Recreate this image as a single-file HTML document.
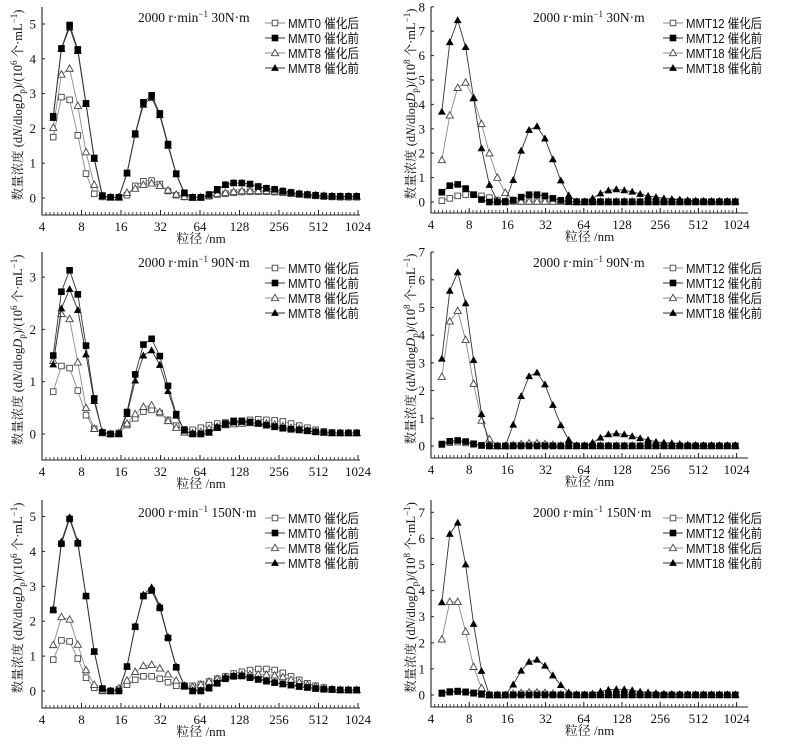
<!DOCTYPE html>
<html><head><meta charset="utf-8"><style>
html,body{margin:0;padding:0;background:#fff}
svg{display:block}
text{font-family:"Liberation Serif","Noto Serif CJK SC","Noto Sans CJK SC",serif;fill:#111}
</style></head><body>
<svg id="fig" width="786" height="745" viewBox="0 0 786 745" xmlns="http://www.w3.org/2000/svg"></svg>
<script>
// bin index k -> diameter 10^(k/16), k = 11..48
const binK = [11,12,13,14,15,16,17,18,19,20,21,22,23,24,25,26,27,28,29,30,31,32,33,34,35,36,37,38,39,40,41,42,43,44,45,46,47,48];
const xTickLabels = [4,8,16,32,64,128,256,512,1024];
const titles = ["2000 r·min⁻¹ 30N·m","2000 r·min⁻¹ 30N·m","2000 r·min⁻¹ 90N·m","2000 r·min⁻¹ 90N·m","2000 r·min⁻¹ 150N·m","2000 r·min⁻¹ 150N·m"];
const yMaxTicks = [5,8,3,7,5,7];
const legendLeft = ["MMT0 催化后","MMT0 催化前","MMT8 催化后","MMT8 催化前"];
const legendRight = ["MMT12 催化后","MMT12 催化前","MMT18 催化后","MMT18 催化前"];

// Panel 1 (left top) 30N·m
const p1_a0 = [1.75,2.9,2.82,1.8,0.7,0.12,0.03,0.02,0.02,0.08,0.35,0.48,0.5,0.4,0.2,0.08,0.03,0.01,0.01,0.05,0.1,0.12,0.15,0.17,0.18,0.18,0.18,0.17,0.15,0.12,0.1,0.08,0.06,0.04,0.03,0.02,0.02,0.02];
const p1_b0 = [2.35,4.3,4.97,4.27,2.72,1.15,0.07,0.02,0.02,0.72,1.85,2.75,2.95,2.43,1.55,0.7,0.15,0.02,0.02,0.1,0.25,0.38,0.43,0.43,0.4,0.33,0.28,0.25,0.2,0.16,0.12,0.1,0.08,0.06,0.05,0.05,0.05,0.05];
const p1_a8 = [2.02,3.55,3.72,2.65,1.32,0.38,0.05,0.02,0.02,0.15,0.27,0.38,0.42,0.35,0.22,0.1,0.04,0.01,0.02,0.06,0.12,0.15,0.18,0.2,0.2,0.2,0.2,0.19,0.17,0.14,0.12,0.1,0.08,0.06,0.05,0.04,0.04,0.04];
const p1_b8 = [2.3,4.28,4.9,4.22,2.7,1.12,0.05,0.02,0.02,0.7,1.82,2.68,2.88,2.38,1.5,0.68,0.13,0.02,0.02,0.1,0.22,0.38,0.43,0.43,0.4,0.33,0.28,0.25,0.2,0.16,0.12,0.1,0.08,0.06,0.05,0.05,0.05,0.05];
// Panel 2 (right top) 30N·m, 1e8
const p2_a12 = [0.05,0.15,0.25,0.3,0.3,0.25,0.18,0.08,0.03,0.02,0.02,0.02,0.02,0.02,0.02,0.02,0.02,0.02,0.02,0.02,0.02,0.02,0.02,0.02,0.02,0.02,0.02,0.02,0.02,0.02,0.02,0.02,0.02,0.02,0.02,0.02,0.02,0.02];
const p2_b12 = [0.4,0.67,0.72,0.55,0.3,0.1,0.0,0.0,0.0,0.08,0.2,0.3,0.3,0.25,0.15,0.07,0.02,0.0,0.0,0.0,0.0,0.0,0.0,0.0,0.0,0.0,0.0,0.0,0.0,0.0,0.0,0.0,0.0,0.0,0.0,0.0,0.0,0.0];
const p2_a18 = [1.72,3.55,4.68,4.9,4.27,3.2,2.0,1.0,0.38,0.05,0.02,0.02,0.02,0.02,0.02,0.02,0.0,0.0,0.0,0.02,0.02,0.02,0.02,0.02,0.02,0.02,0.02,0.02,0.02,0.02,0.02,0.02,0.02,0.02,0.02,0.02,0.02,0.02];
const p2_b18 = [3.7,6.55,7.45,6.35,4.25,2.2,0.7,0.05,0.02,0.9,2.1,2.95,3.1,2.6,1.75,0.88,0.27,0.02,0.02,0.15,0.35,0.47,0.52,0.48,0.42,0.33,0.25,0.2,0.15,0.12,0.1,0.07,0.05,0.04,0.03,0.03,0.02,0.02];
// Panel 3 (left middle) 90N·m
const p3_a0 = [0.81,1.3,1.26,0.83,0.36,0.1,0.02,0.0,0.02,0.17,0.3,0.43,0.46,0.4,0.27,0.16,0.09,0.08,0.12,0.17,0.2,0.22,0.23,0.25,0.27,0.28,0.27,0.26,0.24,0.2,0.16,0.12,0.08,0.05,0.03,0.02,0.02,0.02];
const p3_b0 = [1.5,2.72,3.13,2.67,1.69,0.68,0.03,0.0,0.0,0.42,1.14,1.71,1.82,1.49,0.92,0.38,0.07,0.0,0.0,0.03,0.12,0.2,0.25,0.25,0.23,0.2,0.17,0.14,0.11,0.09,0.08,0.06,0.04,0.03,0.02,0.02,0.02,0.02];
const p3_a8 = [1.4,2.3,2.2,1.37,0.5,0.1,0.02,0.0,0.02,0.2,0.38,0.52,0.55,0.42,0.25,0.12,0.03,0.02,0.04,0.1,0.14,0.17,0.19,0.2,0.21,0.21,0.2,0.18,0.15,0.12,0.1,0.07,0.05,0.03,0.02,0.02,0.02,0.02];
const p3_b8 = [1.33,2.4,2.77,2.37,1.52,0.63,0.04,0.0,0.0,0.38,1.02,1.5,1.6,1.32,0.82,0.35,0.07,0.0,0.0,0.03,0.12,0.18,0.22,0.23,0.22,0.2,0.16,0.13,0.11,0.09,0.07,0.06,0.04,0.03,0.02,0.02,0.02,0.02];
// Panel 4 (right middle) 90N·m
const p4_a12 = [0.05,0.12,0.14,0.11,0.06,0.02,0.0,0.0,0.0,0.02,0.03,0.04,0.04,0.03,0.02,0.01,0.01,0.01,0.01,0.01,0.01,0.01,0.01,0.01,0.01,0.01,0.01,0.01,0.01,0.01,0.01,0.01,0.01,0.01,0.01,0.01,0.01,0.01];
const p4_b12 = [0.07,0.17,0.2,0.16,0.08,0.02,0.0,0.0,0.0,0.0,0.0,0.0,0.0,0.0,0.0,0.0,0.0,0.0,0.0,0.0,0.0,0.0,0.0,0.0,0.0,0.0,0.0,0.0,0.0,0.0,0.0,0.0,0.0,0.0,0.0,0.0,0.0,0.0];
const p4_a18 = [2.5,4.5,4.88,3.83,2.25,0.92,0.25,0.0,0.0,0.03,0.07,0.1,0.1,0.07,0.04,0.02,0.01,0.01,0.01,0.01,0.01,0.01,0.01,0.01,0.01,0.01,0.01,0.01,0.01,0.01,0.01,0.01,0.01,0.01,0.01,0.01,0.01,0.01];
const p4_b18 = [3.15,5.6,6.27,5.15,3.1,1.15,0.02,0.0,0.0,0.77,1.8,2.52,2.65,2.22,1.48,0.75,0.22,0.0,0.0,0.12,0.3,0.42,0.45,0.42,0.35,0.28,0.22,0.15,0.12,0.1,0.07,0.05,0.03,0.02,0.02,0.02,0.02,0.02];
// Panel 5 (left bottom) 150N·m
const p5_a0 = [0.9,1.45,1.42,0.93,0.38,0.09,0.0,0.0,0.05,0.18,0.32,0.42,0.42,0.35,0.25,0.15,0.12,0.15,0.2,0.27,0.35,0.42,0.5,0.55,0.6,0.63,0.63,0.6,0.52,0.42,0.32,0.22,0.15,0.1,0.05,0.03,0.02,0.02];
const p5_b0 = [2.32,4.22,4.93,4.23,2.72,1.13,0.07,0.0,0.0,0.7,1.84,2.72,2.88,2.38,1.52,0.68,0.15,0.0,0.0,0.08,0.22,0.35,0.42,0.43,0.38,0.33,0.28,0.24,0.2,0.17,0.13,0.1,0.07,0.05,0.04,0.03,0.03,0.03];
const p5_a8 = [1.32,2.12,2.05,1.33,0.6,0.18,0.02,0.0,0.08,0.3,0.55,0.72,0.75,0.65,0.48,0.3,0.15,0.12,0.18,0.27,0.35,0.4,0.44,0.47,0.48,0.48,0.47,0.45,0.4,0.32,0.25,0.18,0.13,0.08,0.05,0.03,0.03,0.03];
const p5_b8 = [2.35,4.28,4.98,4.28,2.72,1.13,0.07,0.0,0.0,0.7,1.85,2.76,2.97,2.43,1.55,0.7,0.15,0.02,0.02,0.1,0.25,0.38,0.43,0.43,0.4,0.35,0.3,0.25,0.2,0.16,0.12,0.1,0.07,0.05,0.04,0.03,0.03,0.03];
// Panel 6 (right bottom) 150N·m
const p6_a12 = [0.05,0.1,0.12,0.1,0.06,0.02,0.0,0.0,0.0,0.02,0.04,0.05,0.05,0.04,0.02,0.01,0.01,0.01,0.01,0.01,0.01,0.01,0.01,0.01,0.01,0.01,0.01,0.01,0.01,0.01,0.01,0.01,0.01,0.01,0.01,0.01,0.01,0.01];
const p6_b12 = [0.08,0.13,0.15,0.12,0.08,0.03,0.0,0.0,0.0,0.0,0.0,0.0,0.0,0.0,0.0,0.0,0.0,0.0,0.0,0.0,0.0,0.0,0.0,0.0,0.0,0.0,0.0,0.0,0.0,0.0,0.0,0.0,0.0,0.0,0.0,0.0,0.0,0.0];
const p6_a18 = [2.13,3.57,3.57,2.43,1.08,0.27,0.0,0.0,0.0,0.05,0.08,0.1,0.1,0.08,0.05,0.02,0.01,0.01,0.01,0.01,0.01,0.01,0.01,0.01,0.01,0.01,0.01,0.01,0.01,0.01,0.01,0.01,0.01,0.01,0.01,0.01,0.01,0.01];
const p6_b18 = [3.55,6.17,6.6,5.0,2.72,0.92,0.0,0.0,0.0,0.4,0.93,1.27,1.35,1.12,0.75,0.38,0.1,0.0,0.0,0.05,0.13,0.2,0.22,0.22,0.18,0.13,0.1,0.07,0.05,0.04,0.03,0.02,0.01,0.01,0.01,0.01,0.01,0.01];

const NS = "http://www.w3.org/2000/svg";
const svg = document.getElementById("fig");
function mk(tag, attrs, parent){
  const e = document.createElementNS(NS, tag);
  for (const k in attrs) e.setAttribute(k, attrs[k]);
  (parent||svg).appendChild(e);
  return e;
}

const geoms = [
  {x4:42, oct:39.5, right:360, zeroY:198, unit:34.8, top:7,   bottom:215, exp:"6", ox:0,   oy:0},
  {x4:431,oct:38.2, right:748, zeroY:202, unit:24.4, top:7,   bottom:213, exp:"8", ox:393, oy:0},
  {x4:42, oct:39.5, right:360, zeroY:434, unit:52.3, top:252, bottom:460, exp:"6", ox:0,   oy:245},
  {x4:431,oct:38.2, right:748, zeroY:446, unit:27.7, top:252, bottom:458, exp:"8", ox:393, oy:245},
  {x4:42, oct:39.5, right:360, zeroY:691, unit:34.9, top:500, bottom:708, exp:"6", ox:0,   oy:495},
  {x4:431,oct:38.2, right:748, zeroY:695, unit:26.1, top:500, bottom:707, exp:"8", ox:393, oy:495}
];
const panelData = [
  [p1_a0,p1_b0,p1_a8,p1_b8],[p2_a12,p2_b12,p2_a18,p2_b18],
  [p3_a0,p3_b0,p3_a8,p3_b8],[p4_a12,p4_b12,p4_a18,p4_b18],
  [p5_a0,p5_b0,p5_a8,p5_b8],[p6_a12,p6_b12,p6_a18,p6_b18]
];
const markerTypes = ["osq","fsq","otri","ftri"];
const lineCols = ["#8a8a8a","#333","#8a8a8a","#333"];

function marker(g, type, x, y){
  let m;
  if (type==="osq") m = mk("rect",{x:x-2.8,y:y-2.8,width:5.6,height:5.6,fill:"#fff",stroke:"#444","stroke-width":0.9},g);
  else if (type==="fsq") m = mk("rect",{x:x-3.3,y:y-3.3,width:6.6,height:6.6,fill:"#000"},g);
  else if (type==="otri") m = mk("polygon",{points:`${x},${y-3.7} ${x+3.6},${y+2.7} ${x-3.6},${y+2.7}`,fill:"#fff",stroke:"#444","stroke-width":0.9},g);
  else m = mk("polygon",{points:`${x},${y-4} ${x+3.9},${y+2.9} ${x-3.9},${y+2.9}`,fill:"#000"},g);
  return m;
}

geoms.forEach((G, pi) => {
  const g = mk("g",{});
  
  
  const xs = d => G.x4 + Math.log2(d/4)*G.oct;
  const ys = v => G.zeroY - v*G.unit;
  const ax = mk("path",{d:`M${G.x4},${G.top} L${G.x4},${G.bottom} L${G.right},${G.bottom}`,fill:"none",stroke:"#222","stroke-width":1.1},g);
  
  
  let tk = "";
  for (let i=0;i<=80;i++){ const x = G.x4 + i*G.oct/10; if (x>G.right) break; tk += `M${x.toFixed(1)},${G.bottom} L${x.toFixed(1)},${G.bottom-3}`; }
  const tp = mk("path",{d:tk,stroke:"#222","stroke-width":0.8},g);
  
  
  xTickLabels.forEach(v => {
    const x = xs(v);
    mk("line",{x1:x,y1:G.bottom,x2:x,y2:G.bottom-5,stroke:"#222","stroke-width":1},g);
    const t = mk("text",{x:x,y:G.bottom+16,"font-size":13,"text-anchor":"middle"},g);
    t.textContent = v;
    
    
  });
  for (let v=0; v<=yMaxTicks[pi]; v++){
    const y = ys(v);
    mk("line",{x1:G.x4,y1:y,x2:G.x4+3,y2:y,stroke:"#222","stroke-width":1},g);
    const t = mk("text",{x:G.x4-6,y:y+4.5,"font-size":13,"text-anchor":"end"},g);
    t.textContent = v;
    
    
  }
  const xt = mk("text",{x:(G.x4+G.right)/2,y:G.bottom+28,"font-size":13,"text-anchor":"middle"},g);
  xt.textContent = "粒径 /nm";
  
  
  const cy = (G.top+G.bottom)/2 - 6;
  const yt = mk("text",{x:0,y:0,"font-size":12.5,"text-anchor":"middle",transform:`translate(${G.ox+22},${cy}) rotate(-90)`},g);
  yt.innerHTML = `数量浓度 (d<tspan font-style="italic">N</tspan>/dlog<tspan font-style="italic">D</tspan><tspan font-size="9" dy="3">p</tspan><tspan dy="-3">)/(10</tspan><tspan font-size="9" dy="-5">${G.exp}</tspan><tspan dy="5"> 个·mL</tspan><tspan font-size="9" dy="-5">−1</tspan><tspan dy="5">)</tspan>`;
  
  
  const tt = mk("text",{x:G.ox+(pi%2? 140:138),y:G.oy+22,"font-size":13.5},g);
  tt.innerHTML = titles[pi].replace("⁻¹","<tspan font-size='9' dy='-5'>−1</tspan><tspan dy='5'> </tspan>");
  
  
  const series = panelData[pi];
  [0,2,3,1].forEach(si => {
    const vals = series[si];
    const sg = mk("g",{},g);
    
    
    const pts = vals.map((v,i) => [xs(Math.pow(10, binK[i]/16)), ys(v)]);
    mk("polyline",{points:pts.map(p=>p[0].toFixed(1)+","+p[1].toFixed(1)).join(" "),fill:"none",stroke:lineCols[si],"stroke-width":0.9},sg);
    pts.forEach(p => {
      const m = marker(sg, markerTypes[si], p[0], p[1]);
      
      
    });
  });
  const labels = (pi%2) ? legendRight : legendLeft;
  const lx = (pi%2) ? G.ox+270 : 265;
  const tw = (pi%2) ? 76 : 71;
  const lg = mk("g",{},g);
  
  
  labels.forEach((lab, i) => {
    const y = G.oy + 23 + i*15;
    const e = mk("g",{},lg);
    
    
    mk("line",{x1:lx,y1:y,x2:lx+20,y2:y,stroke:lineCols[i],"stroke-width":0.9},e);
    marker(e, markerTypes[i], lx+10, y);
    const t = mk("text",{x:lx+23,y:y+5,"font-size":13,textLength:tw,lengthAdjust:"spacingAndGlyphs"},e);
    t.setAttribute("style","font-family:'Liberation Sans','Noto Sans CJK SC',sans-serif");
    t.textContent = lab;
  });
});
</script>
</body></html>
